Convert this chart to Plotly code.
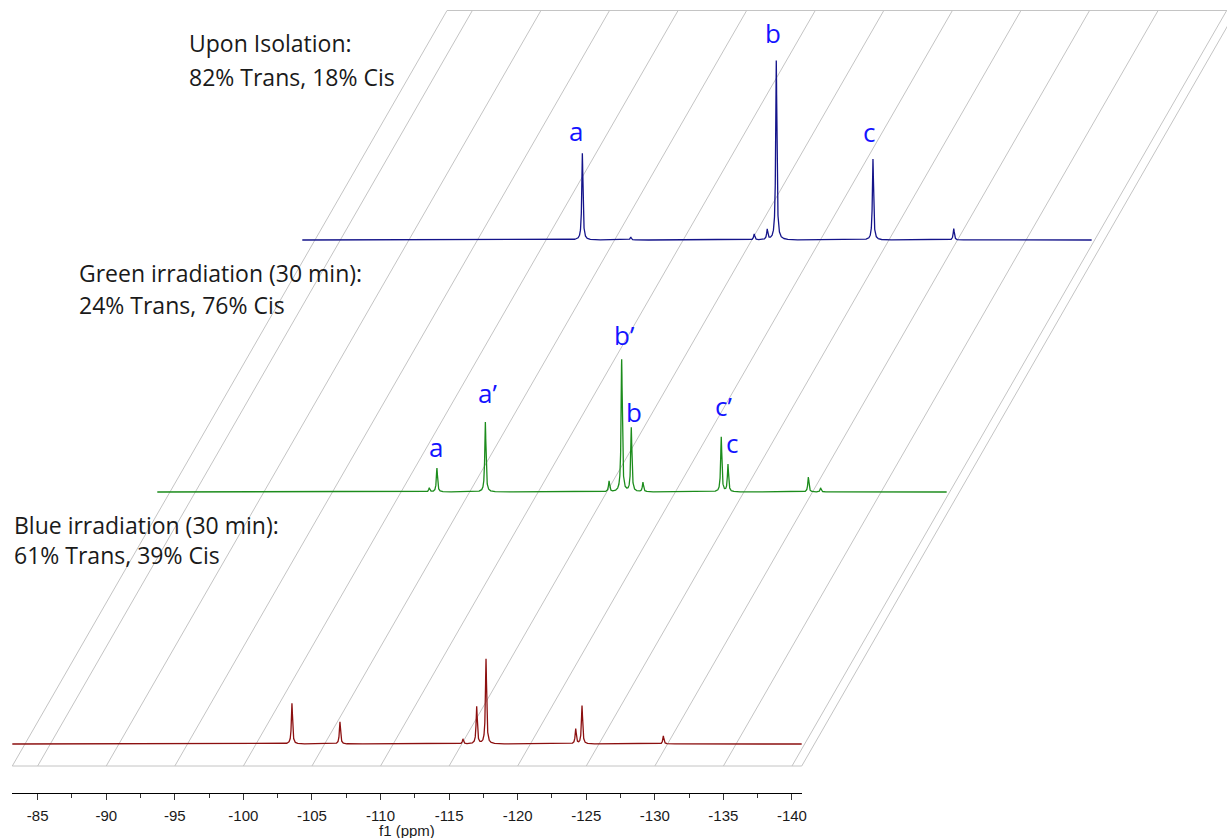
import numpy as np
import plotly.graph_objects as go

# 19F NMR peak tables: chemical shift (ppm) and peak height (a.u.)
isolated_ppm = [-103.57, -107.10, -116.10, -117.05, -117.71, -124.76, -130.65]
isolated_int = [86.7, 3.0, 6.0, 10.0, 179.3, 81.0, 11.3]

green_ppm = [-102.98, -103.54, -107.07, -116.09, -117.01, -117.71, -118.56,
             -124.27, -124.76, -130.62, -131.52]
green_int = [4.0, 24.0, 70.0, 10.6, 132.3, 64.0, 9.6, 55.0, 27.3, 15.0, 4.0]

blue_ppm = [-103.54, -107.04, -116.01, -117.01, -117.69, -124.23, -124.69, -130.62]
blue_int = [40.7, 22.3, 5.0, 37.3, 85.0, 15.0, 38.3, 8.0]

# spectral window and axis ticks
ppm_start, ppm_end = -83.15, -140.71
tick_vals = [-85, -90, -95, -100, -105, -110, -115, -120, -125, -130, -135, -140]
tick_text = ["-85", "-90", "-95", "-100", "-105", "-110", "-115", "-120",
             "-125", "-130", "-135", "-140"]
minor_vals = [-87.5, -92.5, -97.5, -102.5, -107.5, -112.5, -117.5, -122.5,
              -127.5, -132.5, -137.5]

# stacked-plot geometry (each trace moves right and up by one step)
STEP_PPM = 10.572
STEP_Y = 252.0
PLANE_BOTTOM, PLANE_TOP = -22.0, 733.5
FWHM = 0.1

W, H = 1227, 838
PX_PER_PPM = 13.715
X_LEFT_PX, X_RIGHT_PX = 12.3, 801.7
full_range = [ppm_start + X_LEFT_PX / PX_PER_PPM,
              ppm_start - (W - X_LEFT_PX) / PX_PER_PPM]


def spectrum(ppm_list, int_list):
    grid = np.arange(ppm_start, ppm_end, -0.004)
    grid = np.union1d(grid, np.array(ppm_list))[::-1]
    y = np.zeros_like(grid)
    hw = FWHM / 2.0
    for p, h in zip(ppm_list, int_list):
        y += h / (1.0 + ((grid - p) / hw) ** 2)
    return grid, y


fig = go.Figure()

# slanted grid plane
slope = STEP_PPM / STEP_Y
rise = (PLANE_TOP - PLANE_BOTTOM) * slope
gx, gy = [], []
for v in [ppm_start] + tick_vals + [ppm_end]:
    gx += [v, v - rise, None]
    gy += [PLANE_BOTTOM, PLANE_TOP, None]
gx += [ppm_start, ppm_end, None, ppm_start - rise, ppm_end - rise]
gy += [PLANE_BOTTOM, PLANE_BOTTOM, None, PLANE_TOP, PLANE_TOP]
fig.add_trace(go.Scatter(x=gx, y=gy, mode="lines", hoverinfo="skip",
                         line=dict(color="#c4c4c4", width=1)))

series = [
    (blue_ppm, blue_int, 0, "#8c1010"),
    (green_ppm, green_int, 1, "#1c8c1c"),
    (isolated_ppm, isolated_int, 2, "#14148a"),
]
for ppm_list, int_list, k, color in series:
    x, y = spectrum(ppm_list, int_list)
    fig.add_trace(go.Scatter(x=x - k * STEP_PPM, y=y + k * STEP_Y, mode="lines",
                             line=dict(color=color, width=1.3)))

# visible chemical-shift axis under the front spectrum
fig.add_trace(go.Scatter(x=[ppm_start], y=[0], xaxis="x2", mode="markers",
                         marker=dict(opacity=0), hoverinfo="skip"))

# peak letters: (text, trace index, shift ppm, height, rise above peak, x shift px)
peak_labels = [
    ("a", 2, -103.57, 86.7, 22, -6),
    ("b", 2, -117.71, 179.3, 28, -3),
    ("c", 2, -124.76, 81.0, 27, -4),
    ("a", 1, -103.54, 24.0, 21, -1),
    ("a\u2019", 1, -107.07, 70.0, 29, 2),
    ("b\u2019", 1, -117.01, 132.3, 25, 3),
    ("b", 1, -117.71, 64.0, 16, 3),
    ("c\u2019", 1, -124.27, 55.0, 31, 2),
    ("c", 1, -124.76, 27.3, 22, 4),
]
for text, k, p, h, up, dx in peak_labels:
    fig.add_annotation(x=p - k * STEP_PPM, y=h + k * STEP_Y + up, text=text,
                       showarrow=False, xanchor="center", yanchor="middle",
                       xshift=dx, font=dict(family="Open Sans", size=26, color="#1414ff"))

# sample captions
captions = [
    ("Upon Isolation:", 187, 43),
    ("82% Trans, 18% Cis", 187, 77),
    ("Green irradiation (30 min):", 77, 273),
    ("24% Trans, 76% Cis", 77, 305),
    ("Blue irradiation (30 min):", 12, 525),
    ("61% Trans, 39% Cis", 12, 555),
]
for text, px, py in captions:
    fig.add_annotation(x=px / W, y=1 - py / H, xref="paper", yref="paper",
                       text=text, showarrow=False, xanchor="left", yanchor="middle",
                       font=dict(family="Open Sans", size=23, color="#1a1a1a"))

# axis caption
fig.add_annotation(x=(X_LEFT_PX + X_RIGHT_PX) / 2 / W, y=1 - 830 / H,
                   xref="paper", yref="paper", text="f1 (ppm)", showarrow=False,
                   xanchor="center", yanchor="middle",
                   font=dict(family="Liberation Sans", size=15, color="#1a1a1a"))

fig.update_layout(
    width=W, height=H,
    margin=dict(l=0, r=0, t=0, b=0),
    paper_bgcolor="white", plot_bgcolor="rgba(0,0,0,0)",
    showlegend=False,
    xaxis=dict(range=full_range, visible=False, fixedrange=True),
    yaxis=dict(range=[-(H - 744), 744], visible=False, fixedrange=True),
    xaxis2=dict(
        domain=[X_LEFT_PX / W, X_RIGHT_PX / W],
        range=[ppm_start, ppm_end],
        anchor="free", position=(H - 793.3) / H,
        showline=True, linecolor="black", linewidth=1,
        ticks="outside", ticklen=6, tickcolor="#333333", tickwidth=1,
        tickmode="array", tickvals=tick_vals, ticktext=tick_text,
        minor=dict(tickmode="array", tickvals=minor_vals, ticks="outside",
                   ticklen=4, tickcolor="#333333"),
        showgrid=False, zeroline=False, automargin=False,
        tickfont=dict(family="Liberation Sans", size=15, color="#1a1a1a"),
        ticklabelstandoff=3,
        fixedrange=True,
    ),
)

fig.write_html("out.html", config={"displayModeBar": False})
